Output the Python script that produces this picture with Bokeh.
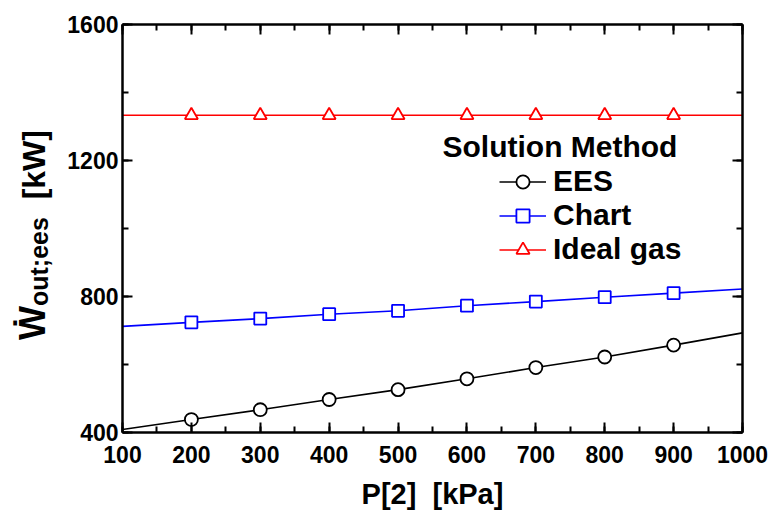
from bokeh.plotting import figure
from bokeh.layouts import row
from bokeh.models import (Range1d, LinearAxis, Label, Legend, LegendItem, Div,
                          SingleIntervalTicker, CustomLabelingPolicy)
from bokeh.embed import file_html
from bokeh.resources import INLINE

# ---- data ----
p2_kpa = [100, 200, 300, 400, 500, 600, 700, 800, 900, 1000]
w_ees = [409, 438, 467, 497, 526, 558, 591, 622, 657, 693]
w_chart = [712, 724, 735, 748, 758, 773, 785, 798, 810, 822]
w_ideal = [1333, 1333, 1333, 1333, 1333, 1333, 1333, 1333, 1333, 1333]
series_names = ["EES", "Chart", "Ideal gas"]
legend_title = "Solution Method"
x_label = "P[2]\u00a0\u00a0[kPa]"
y_label_main = "W"
y_label_sub = "out;ees"
y_label_unit = "[kW]"

FONT = "Liberation Sans"
TOTAL_W, H = 773, 514
LW = 56  # width of the strip holding the y-axis title
# frame in page pixels
FL, FR, FT, FB = 122, 742, 24, 432
X0, X1, Y0, Y1 = 100, 1000, 400, 1600

p = figure(width=TOTAL_W - LW, height=H, x_range=Range1d(X0, X1), y_range=Range1d(Y0, Y1),
           output_backend="svg", toolbar_location=None,
           min_border_left=FL - LW, min_border_right=TOTAL_W - FR,
           min_border_top=FT, min_border_bottom=H - FB)
p.xgrid.visible = False
p.ygrid.visible = False
p.outline_line_color = None
p.background_fill_color = "white"
p.border_fill_color = "white"

nolabels = CustomLabelingPolicy(code="for (const i of indices) { indices.unset(i) }\nreturn indices")
p.add_layout(LinearAxis(major_label_policy=nolabels), "above")
p.add_layout(LinearAxis(major_label_policy=nolabels), "right")

xt = SingleIntervalTicker(interval=100, num_minor_ticks=2)
yt = SingleIntervalTicker(interval=400, num_minor_ticks=2)
for ax in p.xaxis:
    ax.ticker = xt
for ax in p.yaxis:
    ax.ticker = yt
for ax in p.axis:
    ax.axis_line_width = 2.5
    ax.axis_line_color = "black"
    ax.major_tick_in = 10
    ax.major_tick_out = 0
    ax.minor_tick_in = 6
    ax.minor_tick_out = 0
    ax.major_tick_line_width = 2
    ax.minor_tick_line_width = 2
    ax.major_label_text_font = FONT
    ax.major_label_text_font_style = "bold"
    ax.major_label_text_font_size = "23px"
    ax.major_label_text_color = "black"

for ax in (p.above[0], p.right[0]):
    ax.major_label_text_font_size = "1px"
    ax.major_label_standoff = 0

p.below[0].major_label_standoff = 13
p.left[0].major_label_standoff = 4

p.below[0].axis_label = x_label
p.below[0].axis_label_text_font = FONT
p.below[0].axis_label_text_font_style = "bold"
p.below[0].axis_label_text_font_size = "29px"
p.below[0].axis_label_text_color = "black"
p.below[0].axis_label_standoff = 12

# series
colors = ["black", "blue", "red"]
markers = ["circle", "square", "triangle"]
sizes = [13, 12, 13]
ys = [w_ees, w_chart, w_ideal]
items = []
for name, c, m, s, yv in zip(series_names, colors, markers, sizes, ys):
    lr = p.line(p2_kpa, yv, line_color=c, line_width=1.6)
    sr = p.scatter(p2_kpa[1:-1], yv[1:-1], marker=m, size=s, line_color=c,
                   fill_color="white", line_width=1.8)
    items.append(LegendItem(label=name, renderers=[lr, sr]))

legend = Legend(items=items, location=(499 - FL, FB - 266),
                glyph_width=47, glyph_height=33, label_height=33,
                label_standoff=7, spacing=0, padding=0, margin=0,
                border_line_color=None, background_fill_alpha=0,
                label_text_font=FONT, label_text_font_style="bold",
                label_text_font_size="30px", label_text_color="black")
p.add_layout(legend)

def dx(px):
    return X0 + (px - FL) * (X1 - X0) / (FR - FL)

def dy(py):
    return Y0 + (FB - py) * (Y1 - Y0) / (FB - FT)

p.add_layout(Label(x=dx(442), y=dy(146), text=legend_title, text_font=FONT,
                   text_font_style="bold", text_font_size="30px",
                   text_baseline="middle", text_align="left", text_color="black"))

# ---- strip with the rotated y-axis title ----
ylab_html = (
    '<div style="position:relative;width:%dpx;height:%dpx;overflow:visible;">'
    '<div style="position:absolute;left:14.5px;top:340px;transform-origin:0 0;'
    'transform:rotate(-90deg);white-space:nowrap;font-family:\'Liberation Sans\';'
    'font-weight:bold;font-size:36px;line-height:36px;color:black;">'
    '<span style="position:relative;">%s'
    '<span style="position:absolute;left:11px;top:-2px;">\u02d9</span></span>'
    '<span style="font-size:25px;position:relative;top:3px;">%s</span>'
    '<span style="font-size:32px;">\u00a0\u00a0%s</span>'
    '</div></div>'
) % (LW, H, y_label_main, y_label_sub, y_label_unit)
ydiv = Div(text=ylab_html, width=LW, height=H, margin=(0, 0, 0, 0))

layout = row(ydiv, p)
open("out.html", "w").write(file_html(layout, INLINE))
